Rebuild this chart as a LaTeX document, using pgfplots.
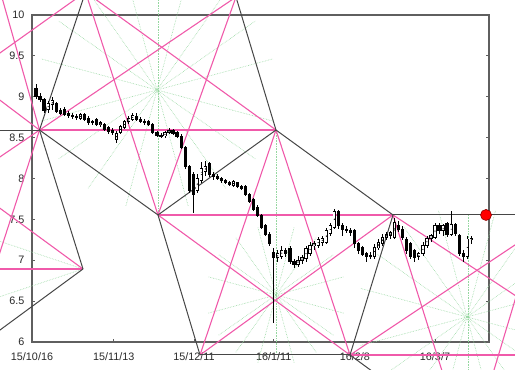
\documentclass[border=0pt]{standalone}
\usepackage{fontspec}
\setmainfont{Liberation Sans}
\usepackage{pgfplots}
\usepackage{pgfplotstable}
\pgfplotsset{compat=1.18}
\definecolor{axgray}{RGB}{95,95,95}
\definecolor{dk}{RGB}{70,70,70}
\definecolor{mg}{RGB}{240,90,170}
\definecolor{gr}{RGB}{150,215,160}
\definecolor{lab}{RGB}{40,40,40}

\pgfplotstableread{
i o h l c
1 9.10 9.15 8.97 9.00
2 9.00 9.05 8.93 8.97
3 8.97 8.99 8.80 8.83
4 8.84 8.95 8.80 8.92
5 8.90 9.00 8.84 8.96
6 8.92 8.94 8.80 8.82
7 8.83 8.86 8.78 8.80
8 8.84 8.88 8.76 8.78
9 8.79 8.82 8.74 8.77
10 8.77 8.80 8.73 8.76
11 8.76 8.79 8.72 8.75
12 8.74 8.80 8.72 8.78
13 8.78 8.80 8.70 8.72
14 8.74 8.76 8.66 8.68
15 8.70 8.72 8.66 8.69
16 8.72 8.74 8.64 8.66
17 8.66 8.70 8.63 8.68
18 8.66 8.68 8.58 8.60
19 8.62 8.64 8.55 8.57
20 8.56 8.62 8.53 8.59
21 8.48 8.58 8.44 8.55
22 8.56 8.66 8.54 8.64
23 8.62 8.72 8.60 8.70
24 8.70 8.76 8.67 8.73
25 8.72 8.80 8.70 8.77
26 8.76 8.80 8.70 8.72
27 8.72 8.75 8.68 8.70
28 8.70 8.73 8.66 8.69
29 8.70 8.72 8.64 8.66
30 8.66 8.68 8.54 8.56
31 8.56 8.58 8.51 8.53
32 8.53 8.56 8.50 8.52
33 8.52 8.58 8.50 8.56
34 8.56 8.62 8.54 8.59
35 8.59 8.61 8.53 8.55
36 8.56 8.58 8.49 8.51
37 8.52 8.54 8.36 8.38
38 8.38 8.40 8.12 8.15
39 8.15 8.17 7.82 7.85
40 8.05 8.08 7.58 7.80
41 7.85 8.05 7.82 8.00
42 7.98 8.20 7.95 8.12
43 8.08 8.22 8.03 8.15
44 8.18 8.20 8.02 8.05
45 8.05 8.08 7.98 8.02
46 8.02 8.05 7.98 8.00
47 8.00 8.02 7.95 7.97
48 7.97 7.99 7.93 7.95
49 7.95 7.97 7.91 7.93
50 7.92 7.98 7.90 7.96
51 7.95 7.96 7.88 7.90
52 7.90 7.92 7.86 7.88
53 7.90 7.92 7.78 7.80
54 7.80 7.82 7.70 7.72
55 7.74 7.76 7.60 7.62
56 7.65 7.67 7.53 7.55
57 7.55 7.57 7.38 7.40
58 7.42 7.44 7.30 7.32
59 7.32 7.34 7.18 7.20
60 7.10 7.15 6.23 7.03
61 7.03 7.12 6.98 7.08
62 7.05 7.18 7.02 7.12
63 7.12 7.15 7.04 7.08
64 7.14 7.18 6.95 6.98
65 6.98 7.02 6.90 6.95
66 6.95 7.05 6.92 7.00
67 7.00 7.06 6.95 7.03
68 7.02 7.18 6.98 7.14
69 7.08 7.22 7.05 7.18
70 7.18 7.23 7.12 7.20
71 7.18 7.28 7.15 7.25
72 7.22 7.30 7.18 7.27
73 7.22 7.40 7.20 7.36
74 7.33 7.45 7.30 7.42
75 7.40 7.63 7.38 7.60
76 7.60 7.62 7.38 7.42
77 7.42 7.45 7.30 7.38
78 7.38 7.42 7.33 7.36
79 7.37 7.40 7.30 7.34
80 7.36 7.38 7.15 7.20
81 7.20 7.22 7.08 7.12
82 7.15 7.18 7.05 7.07
83 7.08 7.10 6.98 7.05
84 7.06 7.10 7.02 7.04
85 7.05 7.20 7.02 7.16
86 7.15 7.26 7.12 7.22
87 7.20 7.32 7.18 7.28
88 7.28 7.34 7.25 7.32
89 7.30 7.36 7.26 7.34
90 7.28 7.52 7.26 7.46
91 7.42 7.48 7.35 7.38
92 7.38 7.42 7.25 7.28
93 7.26 7.28 7.08 7.12
94 7.20 7.22 7.02 7.05
95 7.12 7.14 6.98 7.03
96 7.04 7.10 7.00 7.08
97 7.08 7.22 7.05 7.18
98 7.18 7.30 7.15 7.27
99 7.27 7.32 7.22 7.30
100 7.28 7.46 7.26 7.42
101 7.42 7.45 7.32 7.36
102 7.36 7.44 7.30 7.42
103 7.45 7.47 7.28 7.32
104 7.32 7.60 7.30 7.44
105 7.44 7.46 7.30 7.33
106 7.30 7.32 7.05 7.08
107 7.08 7.12 6.98 7.05
108 7.05 7.30 7.02 7.26
109 7.25 7.30 7.20 7.27
}\candles

\begin{document}
\begin{tikzpicture}
\path[use as bounding box] (-32pt,-28pt) rectangle (483pt,342pt);
\clip (-32pt,-28pt) rectangle (483pt,342pt);
\begin{axis}[
  at={(0pt,0pt)}, anchor=south west,
  scale only axis, width=457pt, height=327pt,
  xmin=0, xmax=113.4, ymin=6, ymax=10,
  clip=false, no markers,
  axis line style={axgray, line width=1.2pt},
  xtick={0,20.3,40.2,60,80.1,100},
  xticklabels={15/10/16,15/11/13,15/12/11,16/1/11,16/2/8,16/3/7},
  ytick={6,6.5,7,7.5,8,8.5,9,9.5,10},
  yticklabels={6,6.5,7,7.5,8,8.5,9,9.5,10},
  xtick pos=bottom, ytick pos=both,
  tick align=inside,
  major tick length=3pt,
  tick style={axgray, line width=0.8pt},
  ticklabel style={font=\fontsize{10.8}{12}\selectfont, text=lab},
  yticklabel style={xshift=-4pt},
  xticklabel style={yshift=-7pt},
  dkl/.style={dk, line width=1pt},
  mgl/.style={mg, line width=1.1pt},
  grl/.style={gr, line width=0.6pt, densely dotted},
  candle/.style={forget plot, only marks, mark=*, mark size=0.1pt,
    mark options={draw=none, fill=none}},
]
% green dotted fans
\addplot[grl] coordinates {(31.266,7.554) (31.266,10.4)};
\addplot[grl] coordinates {(60.546,8.593) (60.546,5.841)};
\addplot[grl] coordinates {(108.19,7.554) (108.19,5.3)};
\addplot[grl] coordinates {(2.25,8.703) (59.79,9.463)};
\addplot[grl] coordinates {(6.63,8.240) (55.41,9.926)};
\addplot[grl] coordinates {(13.93,7.881) (48.11,10.285)};
\addplot[grl] coordinates {(23.30,7.665) (38.74,10.501)};
\addplot[grl] coordinates {(38.74,7.665) (23.30,10.501)};
\addplot[grl] coordinates {(48.11,7.881) (13.93,10.285)};
\addplot[grl] coordinates {(55.41,8.240) (6.63,9.926)};
\addplot[grl] coordinates {(59.79,8.703) (2.25,9.463)};
\addplot[grl] coordinates {(81.57,5.958) (134.31,6.655)};
\addplot[grl] coordinates {(85.58,5.534) (130.30,7.078)};
\addplot[grl] coordinates {(92.27,5.204) (123.61,7.408)};
\addplot[grl] coordinates {(100.87,5.006) (115.01,7.606)};
\addplot[grl] coordinates {(115.01,5.006) (100.87,7.606)};
\addplot[grl] coordinates {(123.61,5.204) (92.27,7.408)};
\addplot[grl] coordinates {(130.30,5.534) (85.58,7.078)};
\addplot[grl] coordinates {(134.31,5.958) (81.57,6.655)};
\addplot[grl] coordinates {(43.77,6.353) (77.33,6.797)};
\addplot[grl] coordinates {(46.32,6.084) (74.78,7.067)};
\addplot[grl] coordinates {(50.58,5.874) (70.52,7.276)};
\addplot[grl] coordinates {(56.05,5.748) (65.05,7.402)};
\addplot[grl] coordinates {(65.05,5.748) (56.05,7.402)};
\addplot[grl] coordinates {(70.52,5.874) (50.58,7.276)};
\addplot[grl] coordinates {(74.78,6.084) (46.32,7.067)};
\addplot[grl] coordinates {(77.33,6.353) (43.77,6.797)};
\addplot[grl] coordinates {(12.655,6.893) (-17.87,7.394)};
\addplot[grl] coordinates {(12.655,6.893) (-17.87,6.392)};
% magenta lines
\addplot[mgl] coordinates {(13.275,10.281) (-17.87,9.187)};
\addplot[mgl] coordinates {(-8.685,10.428) (1.861,8.593)};
\addplot[mgl] coordinates {(-17.87,9.327) (1.861,8.593)};
\addplot[mgl] coordinates {(-17.87,7.933) (50.62,10.220)};
\addplot[mgl] coordinates {(1.861,8.593) (-10.42,6.722)};
\addplot[mgl] coordinates {(1.861,8.593) (60.546,8.593)};
\addplot[mgl] coordinates {(13.275,10.281) (31.266,7.554)};
\addplot[mgl] coordinates {(13.275,10.281) (60.546,8.593)};
\addplot[mgl] coordinates {(50.62,10.220) (31.266,7.554)};
\addplot[mgl] coordinates {(-17.87,6.893) (12.655,6.893)};
\addplot[mgl] coordinates {(-17.87,7.994) (12.655,6.893)};
\addplot[mgl] coordinates {(31.266,7.554) (89.578,7.554)};
\addplot[mgl] coordinates {(31.266,7.554) (78.908,5.841)};
\addplot[mgl] coordinates {(60.546,8.593) (41.687,5.841)};
\addplot[mgl] coordinates {(60.546,8.593) (78.908,5.841)};
\addplot[mgl] coordinates {(41.687,5.841) (89.578,7.554)};
\addplot[mgl] coordinates {(78.908,5.841) (131.02,5.841)};
\addplot[mgl] coordinates {(89.578,7.554) (131.02,6.208)};
\addplot[mgl] coordinates {(89.578,7.554) (103.23,5.413)};
\addplot[mgl] coordinates {(78.908,5.841) (131.02,7.554)};
\addplot[mgl] coordinates {(126.05,7.529) (113.15,5.413)};
% dark pivot lines
\addplot[dkl] coordinates {(-17.87,8.593) (1.861,8.593)};
\addplot[dkl] coordinates {(1.861,8.593) (13.275,10.281)};
\addplot[dkl] coordinates {(1.861,8.593) (12.655,6.893)};
\addplot[dkl] coordinates {(1.861,8.593) (31.266,7.554)};
\addplot[dkl] coordinates {(12.655,6.893) (-17.87,5.787)};
\addplot[dkl] coordinates {(50.62,10.220) (60.546,8.593)};
\addplot[dkl] coordinates {(31.266,7.554) (60.546,8.593)};
\addplot[dkl] coordinates {(60.546,8.593) (89.578,7.554)};
\addplot[dkl] coordinates {(31.266,7.554) (41.687,5.841)};
\addplot[dkl] coordinates {(41.687,5.841) (78.908,5.841)};
\addplot[dkl] coordinates {(78.908,5.841) (89.578,7.554)};
\addplot[dkl] coordinates {(89.578,7.554) (131.02,7.554)};
\addplot[dkl] coordinates {(78.908,5.841) (86.35,5.572)};
% candlesticks: wicks
\addplot[candle,
  error bars/.cd, y dir=both, y explicit, error mark=none,
  error bar style={black, line width=0.8pt}]
  table[x=i, y expr={(\thisrow{h}+\thisrow{l})/2}, y error expr={(\thisrow{h}-\thisrow{l})/2}] {\candles};
% bodies (outer black)
\addplot[candle,
  error bars/.cd, y dir=both, y explicit, error mark=none,
  error bar style={black, line width=3.2pt}]
  table[x=i, y expr={(\thisrow{o}+\thisrow{c})/2}, y error expr={abs(\thisrow{c}-\thisrow{o})/2+0.006}] {\candles};
% bodies (white inner for rising candles)
\addplot[candle,
  error bars/.cd, y dir=both, y explicit, error mark=none,
  error bar style={white, line width=1.6pt}]
  table[x=i, y expr={(\thisrow{o}+\thisrow{c})/2}, y error expr={(\thisrow{c}>\thisrow{o})*max(abs(\thisrow{c}-\thisrow{o})/2-0.006,0)}] {\candles};
% red marker
\addplot[only marks, mark=*, mark size=5.5pt, mark options={fill=red, draw=red!55!black, line width=0.6pt}] coordinates {(112.66,7.554)};
\end{axis}
\end{tikzpicture}
\end{document}
